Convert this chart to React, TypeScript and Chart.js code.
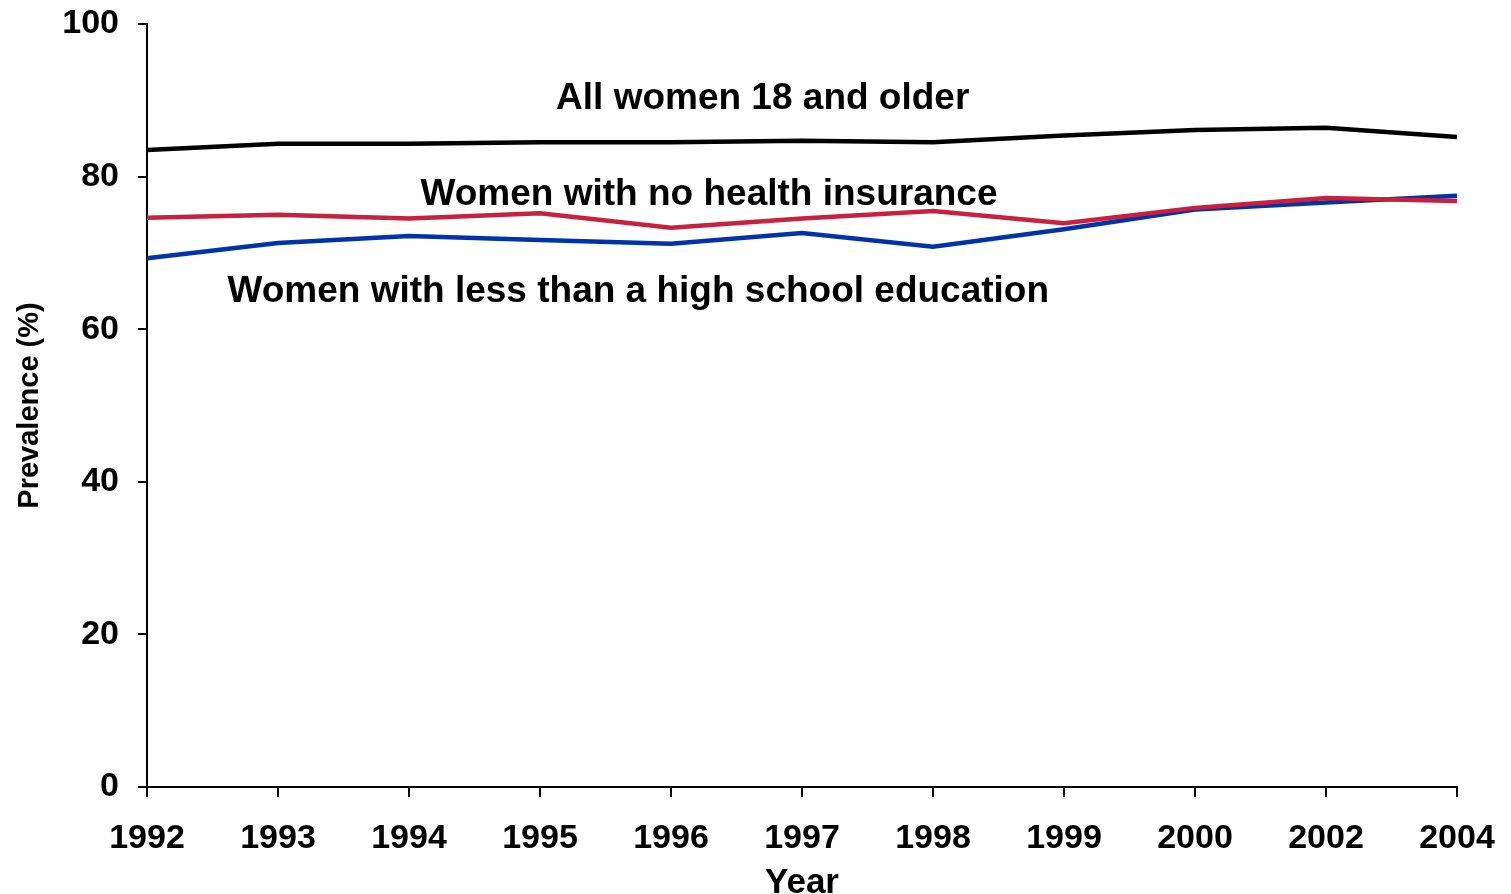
import React, { useEffect, useRef } from "react";
import { Chart, registerables } from "chart.js";

Chart.register(...registerables);

const years = ["1992", "1993", "1994", "1995", "1996", "1997", "1998", "1999", "2000", "2002", "2004"];
const allWomen = [83.5, 84.3, 84.3, 84.5, 84.5, 84.7, 84.5, 85.4, 86.1, 86.4, 85.2];
const noInsurance = [74.6, 75.0, 74.5, 75.2, 73.3, 74.5, 75.5, 73.9, 75.9, 77.2, 76.8];
const lessHighSchool = [69.3, 71.3, 72.2, 71.7, 71.2, 72.6, 70.8, 73.1, 75.7, 76.6, 77.5];
const yTicks = [0, 20, 40, 60, 80, 100];

const seriesLabels = [
  "All women 18 and older",
  "Women with no health insurance",
  "Women with less than a high school education",
];
// annotation anchors in data units: [x index, y value]
const labelAnchors: [number, number][] = [
  [4.7, 90.15],
  [4.29, 77.55],
  [3.75, 64.95],
];

const FONT = "'Liberation Sans', Arial, sans-serif";

const annotationPlugin = {
  id: "seriesText",
  afterDatasetsDraw(chart: any) {
    const { ctx, scales } = chart;
    ctx.save();
    ctx.font = `bold 37px ${FONT}`;
    ctx.fillStyle = "#000";
    ctx.textAlign = "center";
    ctx.textBaseline = "middle";
    seriesLabels.forEach((t, i) => {
      const [xi, yv] = labelAnchors[i];
      ctx.fillText(t, scales.x.getPixelForValue(xi), scales.y.getPixelForValue(yv));
    });
    ctx.restore();
  },
};

export default function App() {
  const ref = useRef<HTMLCanvasElement>(null);
  useEffect(() => {
    if (!ref.current) return;
    const chart = new Chart(ref.current, {
      type: "line",
      data: {
        labels: years,
        datasets: [
          { label: seriesLabels[0], data: allWomen, borderColor: "#000000", backgroundColor: "#000000", borderWidth: 4.5, pointRadius: 0, tension: 0 },
          { label: seriesLabels[1], data: noInsurance, borderColor: "#C8203F", backgroundColor: "#C8203F", borderWidth: 4.5, pointRadius: 0, tension: 0 },
          { label: seriesLabels[2], data: lessHighSchool, borderColor: "#0033A8", backgroundColor: "#0033A8", borderWidth: 4.5, pointRadius: 0, tension: 0 },
        ],
      },
      options: {
        animation: false,
        responsive: false,
        maintainAspectRatio: false,
        layout: { padding: { left: 0, right: 54, top: 24, bottom: 0 } },
        plugins: { legend: { display: false }, tooltip: { enabled: false } },
        scales: {
          x: {
            type: "category",
            offset: false,
            border: { color: "#000", width: 2 },
            grid: { drawOnChartArea: false, drawTicks: true, tickLength: 10, color: "#000", lineWidth: 2 },
            ticks: { color: "#000", font: { family: FONT, size: 34, weight: "bold" }, padding: 21, maxRotation: 0, autoSkip: false },
            title: { display: true, text: "Year", color: "#000", font: { family: FONT, size: 35, weight: "bold" }, padding: { top: 0, bottom: -10 } },
            afterFit: (s: any) => { s.height = 107; s.paddingLeft = 0; s.paddingRight = 0; },
          },
          y: {
            min: 0,
            max: 100,
            border: { color: "#000", width: 2 },
            grid: { drawOnChartArea: false, drawTicks: true, tickLength: 9, color: "#000", lineWidth: 2 },
            afterBuildTicks: (s: any) => { s.ticks = yTicks.map((v) => ({ value: v })); },
            ticks: { color: "#000", font: { family: FONT, size: 34, weight: "bold" }, padding: 19 },
            title: { display: true, text: "Prevalence (%)", color: "#000", font: { family: FONT, size: 29, weight: "bold" }, padding: { top: 13, bottom: 0 } },
            afterFit: (s: any) => { s.width = 147; s.paddingTop = 0; s.paddingBottom = 0; },
          },
        },
      },
      plugins: [annotationPlugin],
    });
    return () => chart.destroy();
  }, []);
  return (
    <div style={{ position: "fixed", left: 0, top: 0, width: 1511, height: 894, background: "#fff" }}>
      <canvas ref={ref} width={1511} height={894} style={{ width: 1511, height: 894, display: "block" }} />
    </div>
  );
}
